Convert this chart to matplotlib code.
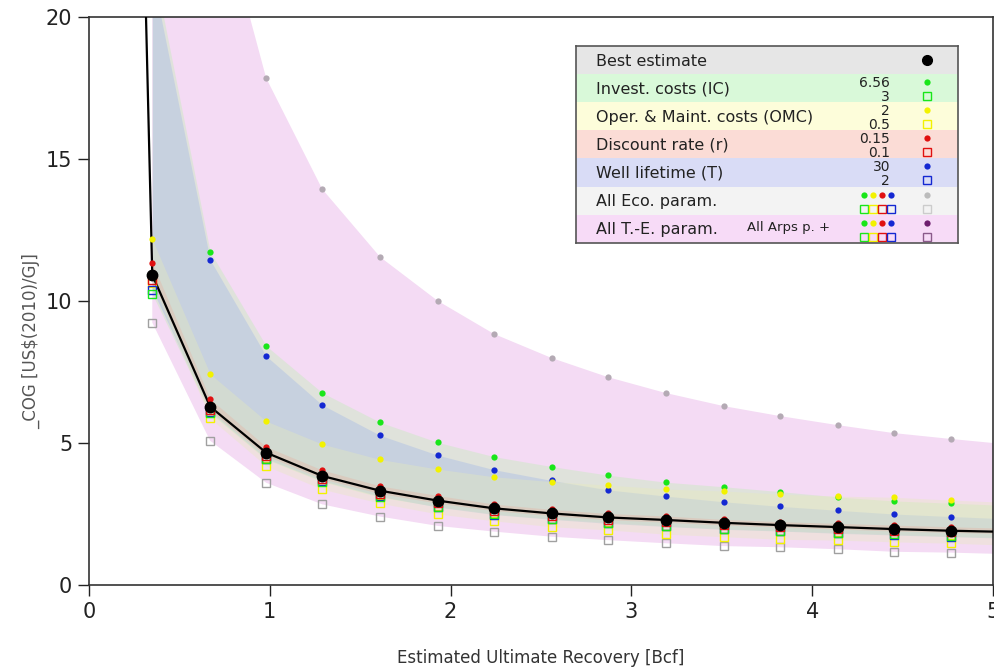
import numpy as np
import matplotlib
matplotlib.use('Agg')
import matplotlib.pyplot as plt

# EUR sample points [Bcf]
eur = [0.35, 0.67, 0.98, 1.29, 1.61, 1.93, 2.24, 2.56, 2.87, 3.19, 3.51, 3.82, 4.14, 4.45, 4.77]

# best estimate of the cost of gas
best = [10.92, 6.28, 4.66, 3.84, 3.32, 2.97, 2.70, 2.52, 2.38, 2.29, 2.19, 2.11, 2.04, 1.97, 1.91]
# steep start of the best estimate line (top of the axes)
best_top_x = 0.313
best_top_y = 20.6

# high (circles) / low (squares) values for each parameter
ic_hi = [22.0, 11.74, 8.42, 6.77, 5.73, 5.02, 4.52, 4.17, 3.87, 3.62, 3.46, 3.29, 3.10, 2.96, 2.88]
ic_lo = [10.24, 6.05, 4.42, 3.64, 3.09, 2.76, 2.50, 2.33, 2.20, 2.08, 1.98, 1.91, 1.84, 1.78, 1.72]
omc_hi = [12.17, 7.43, 5.77, 4.96, 4.42, 4.08, 3.81, 3.64, 3.52, 3.38, 3.31, 3.20, 3.13, 3.09, 2.99]
omc_lo = [10.62, 5.87, 4.19, 3.37, 2.88, 2.50, 2.26, 2.05, 1.94, 1.79, 1.70, 1.61, 1.58, 1.52, 1.47]
r_hi = [11.35, 6.55, 4.87, 4.05, 3.49, 3.15, 2.85, 2.66, 2.52, 2.43, 2.31, 2.23, 2.17, 2.11, 2.05]
r_lo = [10.75, 6.15, 4.55, 3.74, 3.22, 2.88, 2.62, 2.44, 2.30, 2.21, 2.11, 2.04, 1.97, 1.90, 1.85]
t_hi = [21.5, 11.45, 8.06, 6.34, 5.27, 4.57, 4.06, 3.68, 3.35, 3.13, 2.93, 2.77, 2.63, 2.50, 2.41]
t_lo = [10.40, 6.10, 4.45, 3.67, 3.12, 2.74, 2.48, 2.31, 2.17, 2.06, 1.96, 1.90, 1.82, 1.76, 1.70]
eco_hi = [46.6, 25.2, 17.85, 13.94, 11.55, 10.0, 8.84, 7.99, 7.32, 6.76, 6.30, 5.95, 5.63, 5.35, 5.14]
eco_lo = [9.24, 5.08, 3.60, 2.84, 2.41, 2.08, 1.88, 1.70, 1.58, 1.47, 1.37, 1.33, 1.26, 1.17, 1.14]

# band edges at the right border (x = 5)
x_end = 5.0
end_vals = {'best': 1.88, 'ic_hi': 2.82, 'ic_lo': 1.68, 'omc_hi': 2.93, 'omc_lo': 1.42,
            'r_hi': 2.01, 'r_lo': 1.82, 't_hi': 2.35, 't_lo': 1.66,
            'eco_hi': 5.0, 'eco_lo': 1.10}

legend_rows = ['Best estimate', 'Invest. costs (IC)', 'Oper. & Maint. costs (OMC)',
               'Discount rate (r)', 'Well lifetime (T)', 'All Eco. param.', 'All T.-E. param.']
legend_hi = ['', '6.56', '2', '0.15', '30', '', '']
legend_lo = ['', '3', '0.5', '0.1', '2', '', '']

c_green = '#19e619'
c_yellow = '#f2f200'
c_red = '#e01010'
c_blue = '#1428d2'
c_gray = '#b4aab4'
c_graysq = '#a0a0a0'
c_purple = '#6e1e6e'

fig = plt.figure(figsize=(9.95, 6.69), dpi=100)
ax = fig.add_axes([89/995, 84/669, 904/995, 568/669])

xb = np.array(eur + [x_end])

def band(lo, hi, key, color, alpha):
    ylo = np.array(lo + [end_vals[key + '_lo']])
    yhi = np.array(hi + [end_vals[key + '_hi']])
    ax.fill_between(xb, ylo, yhi, color=color, alpha=alpha, lw=0, zorder=1)

band(eco_lo, eco_hi, 'eco', '#f4dbf4', 1.0)
band(ic_lo, ic_hi, 'ic', '#cfe8c8', 0.55)
band(t_lo, t_hi, 't', '#b4c4e4', 0.55)
band(omc_lo, omc_hi, 'omc', '#e8ecb8', 0.35)
band(r_lo, r_hi, 'r', '#e8b0a0', 0.35)

# best estimate line
ax.plot([best_top_x] + eur + [x_end], [best_top_y] + best + [end_vals['best']],
        color='black', lw=1.6, zorder=3)

sq = dict(ls='none', marker='s', ms=6, mfc='none', mew=1.0, zorder=4)
ax.plot(eur, eco_lo, mec=c_graysq, **sq)
ax.plot(eur, omc_lo, mec=c_yellow, **sq)
ax.plot(eur, t_lo, mec=c_blue, **sq)
ax.plot(eur, ic_lo, mec=c_green, **sq)
ax.plot(eur, r_lo, mec=c_red, **sq)

ci = dict(ls='none', marker='o', ms=4.5, mew=0, zorder=5)
ax.plot(eur, eco_hi, color=c_gray, **ci)
ax.plot(eur, t_hi, color=c_blue, **ci)
ax.plot(eur, ic_hi, color=c_green, **ci)
ax.plot(eur, omc_hi, color=c_yellow, **ci)
ax.plot(eur, r_hi, color=c_red, **ci)
ax.plot(eur, best, ls='none', marker='o', ms=7.5, color='black', zorder=6)

ax.set_xlim(0, 5)
ax.set_ylim(0, 20)
ax.set_xticks([0, 1, 2, 3, 4, 5])
ax.set_yticks([0, 5, 10, 15, 20])
ax.tick_params(labelsize=15, length=8, width=1, colors='#222222', direction='out', pad=4)
for s in ax.spines.values():
    s.set_color('#333333')
    s.set_linewidth(1.2)
ax.set_xlabel('Estimated Ultimate Recovery [Bcf]', fontsize=12, color='#333333', labelpad=20)
ax.set_ylabel('_COG [US$(2010)/GJ]', fontsize=12, color='#555555')
ax.yaxis.set_label_coords(-0.054, 0.43)

# legend box drawn by hand (pixel units inside the box)
lax = fig.add_axes([576/995, (669-243)/669, 382/995, 197/669])
lax.set_xlim(0, 382)
lax.set_ylim(197, 0)
lax.set_xticks([])
lax.set_yticks([])
for s in lax.spines.values():
    s.set_color('#555555')
    s.set_linewidth(1.2)
row_colors = ['#e6e6e6', '#d9f9d9', '#fdfdda', '#fbdcd6', '#d9dcf6', '#f3f3f3', '#f7dbf7']
row_h = 28.1
for i, lab in enumerate(legend_rows):
    y0 = i * row_h
    lax.axhspan(y0, y0 + row_h + 0.5, color=row_colors[i], lw=0)
    lax.text(20, y0 + row_h / 2 + 1, lab, fontsize=11.5, color='#222222', va='center', ha='left')
    if legend_hi[i]:
        lax.text(314, y0 + 9, legend_hi[i], fontsize=10, color='#222222', va='center', ha='right')
        lax.text(314, y0 + 23, legend_lo[i], fontsize=10, color='#222222', va='center', ha='right')

mk_colors = [c_green, c_yellow, c_red, c_blue]
lax.plot(351, 14, 'o', color='black', ms=7)
for i, c in enumerate(mk_colors):
    y0 = (i + 1) * row_h
    lax.plot(351, y0 + 8, 'o', color=c, ms=4.5, mew=0)
    lax.plot(351, y0 + 22, 's', mec=c, mfc='none', ms=6, mew=1)
for j, y0 in enumerate([5 * row_h, 6 * row_h]):
    for i, c in enumerate(mk_colors):
        lax.plot(288 + 9 * i, y0 + 8, 'o', color=c, ms=4.5, mew=0)
        lax.plot(288 + 9 * i, y0 + 22, 's', mec=c, mfc='none', ms=6, mew=1)
lax.plot(351, 5 * row_h + 8, 'o', color='#bbbbbb', ms=4.5, mew=0)
lax.plot(351, 5 * row_h + 22, 's', mec='#cccccc', mfc='none', ms=6, mew=1)
lax.plot(351, 6 * row_h + 8, 'o', color=c_purple, ms=4.5, mew=0)
lax.plot(351, 6 * row_h + 22, 's', mec='#8a5a8a', mfc='none', ms=6, mew=1)
lax.text(254, 6 * row_h + 13, 'All Arps p. +', fontsize=9.5, color='#222222', va='center', ha='right')

fig.savefig('out.png', dpi=100)
